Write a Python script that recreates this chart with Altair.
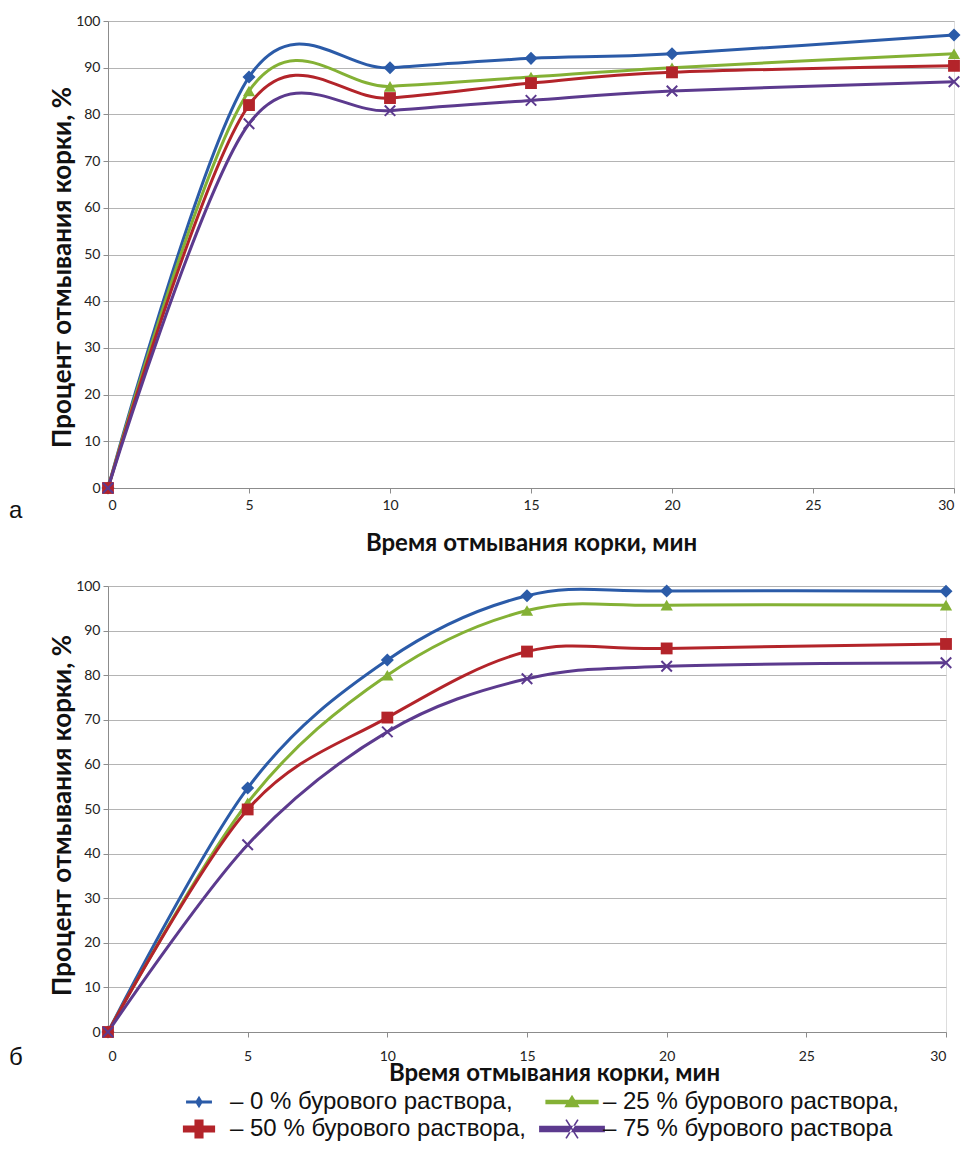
import altair as alt
import pandas as pd

# ---------------- data ----------------
times = [0, 5, 10, 15, 20, 30]
series_labels = [
    "– 0 % бурового раствора,",
    "– 25 % бурового раствора,",
    "– 50 % бурового раствора,",
    "– 75 % бурового раствора",
]
colors = ["#2B5BA8", "#84B135", "#B3242A", "#5C3A8E"]

a_0 = [0, 88, 90, 92, 93, 97]
a_25 = [0, 85, 86, 88, 90, 93]
a_50 = [0, 82, 83.5, 86.7, 89, 90.4]
a_75 = [0, 78, 80.8, 83, 85, 87]

b_0 = [0, 54.7, 83.4, 97.8, 98.9, 98.8]
b_25 = [0, 51.4, 80, 94.5, 95.7, 95.7]
b_50 = [0, 49.9, 70.5, 85.3, 86, 87]
b_75 = [0, 42, 67.3, 79.2, 82, 82.8]

x_ticks = [0, 5, 10, 15, 20, 25, 30]
y_ticks = [0, 10, 20, 30, 40, 50, 60, 70, 80, 90, 100]

x_title = "Время отмывания корки, мин"
y_title = "Процент отмывания корки, %"

# ---------------- styling ----------------
AXF = "Lato, Open Sans, sans-serif"
SANS = "Liberation Sans, Arial, sans-serif"
X_PATH = "M-1,-1L1,1M-1,1L1,-1"
marker_shapes = ["diamond", "triangle-up", "square", X_PATH]
marker_sizes = [170, 150, 140, 110]

# legend symbols: a line segment with the marker (unit = sqrt(size)/2 = 7px)
legend_paths = [
    "M-1.85,-0.2H1.85V0.2H-1.85Z M0,-0.9L0.55,0L0,0.9L-0.55,0Z",
    "M-3.8,-0.33H3.8V0.33H-3.8Z M0,-1.05L1.1,0.75H-1.1Z",
    "M-2.3,-0.5H2.3V0.5H-2.3Z M-0.65,-1.35H0.65V1.35H-0.65Z",
    "M-4.7,-0.48H4.7V0.48H-4.7Z M-0.95,-1.3L-0.75,-1.4L0.95,1.3L0.75,1.4Z M-0.95,1.3L-0.75,1.4L0.95,-1.3L0.75,-1.4Z",
]


def long_df(cols):
    rows = []
    for s, vals in zip(series_labels, cols):
        for t, v in zip(times, vals):
            rows.append({"series": s, "time": t, "value": v})
    return pd.DataFrame(rows)


def panel(cols, tag, width, height, label_pad, title_pad, title_x, title_y, tag_dy, with_legend):
    df = long_df(cols)
    xaxis = dict(
        values=x_ticks, title=x_title, grid=False, tickSize=5,
        labelPadding=label_pad, titlePadding=title_pad,
        labelFont=AXF, labelFontSize=14, labelColor="#222222",
        titleFont=AXF, titleFontSize=24, titleFontWeight="bold",
        titleColor="#111111", domainColor="#8C8C8C", tickColor="#8C8C8C",
    )
    if title_x is not None:
        xaxis["titleX"] = title_x
    x = alt.X("time:Q", scale=alt.Scale(domain=[0, 30], nice=False),
              axis=alt.Axis(**xaxis))
    y = alt.Y(
        "value:Q",
        scale=alt.Scale(domain=[0, 100], nice=False),
        axis=alt.Axis(
            values=y_ticks, title=y_title, grid=True, gridColor="#B4B4B4",
            tickSize=5, labelPadding=3, titlePadding=0, titleY=title_y,
            labelFont=AXF, labelFontSize=14, labelColor="#222222",
            titleFont=AXF, titleFontSize=26, titleFontWeight="bold",
            titleColor="#111111", domainColor="#8C8C8C", tickColor="#8C8C8C",
        ),
    )
    layers = []
    for i, s in enumerate(series_labels):
        layers.append(
            alt.Chart(df).transform_filter(alt.datum.series == s)
            .mark_line(interpolate="cardinal", color=colors[i], strokeWidth=3)
            .encode(x=x, y=y)
        )
    for i, s in enumerate(series_labels):
        base = alt.Chart(df).transform_filter(alt.datum.series == s)
        if marker_shapes[i] == X_PATH:
            m = base.mark_point(shape=X_PATH, filled=False, color=colors[i],
                                strokeWidth=2, size=marker_sizes[i], opacity=1)
        else:
            m = base.mark_point(shape=marker_shapes[i], filled=True, color=colors[i],
                                size=marker_sizes[i], opacity=1)
        layers.append(m.encode(x=x, y=y))
    if with_legend:
        leg = alt.Legend(
            title=None, orient="none", legendX=79, legendY=1069, columns=2,
            direction="horizontal",
            symbolSize=196, symbolStrokeWidth=0, symbolOpacity=1,
            labelFont=SANS, labelFontSize=24, labelColor="#111111",
            labelOffset=19, labelLimit=700, columnPadding=13, rowPadding=3,
            padding=0,
        )
        layers.append(
            alt.Chart(df).mark_point(filled=True, opacity=0).encode(
                x=x, y=y,
                color=alt.Color("series:N", sort=series_labels,
                                scale=alt.Scale(domain=series_labels, range=colors),
                                legend=leg),
                shape=alt.Shape("series:N", sort=series_labels,
                                scale=alt.Scale(domain=series_labels, range=legend_paths),
                                legend=leg),
            )
        )
    tag_df = pd.DataFrame({"t": [tag]})
    layers.append(
        alt.Chart(tag_df).mark_text(font=SANS, fontSize=24, align="left",
                                    baseline="middle", color="#111111")
        .encode(text="t:N", x=alt.value(-99), y=alt.value(height + tag_dy))
    )
    return alt.layer(*layers).properties(width=width, height=height)


chart_a = panel([a_0, a_25, a_50, a_75], "а", 846, 467, 5, 19, None, 246, 23, False)
chart_b = panel([b_0, b_25, b_50, b_75], "б", 838, 446, 12, -2, 446, 229, 26, True)

chart = (
    alt.vconcat(chart_a, chart_b, spacing=22)
    .properties(padding={"left": 0, "top": 5, "right": 0, "bottom": 0})
    .configure_view(stroke=None)
    .configure(background="white")
)

chart.save("out.html", embed_options={"renderer": "svg", "actions": False})
